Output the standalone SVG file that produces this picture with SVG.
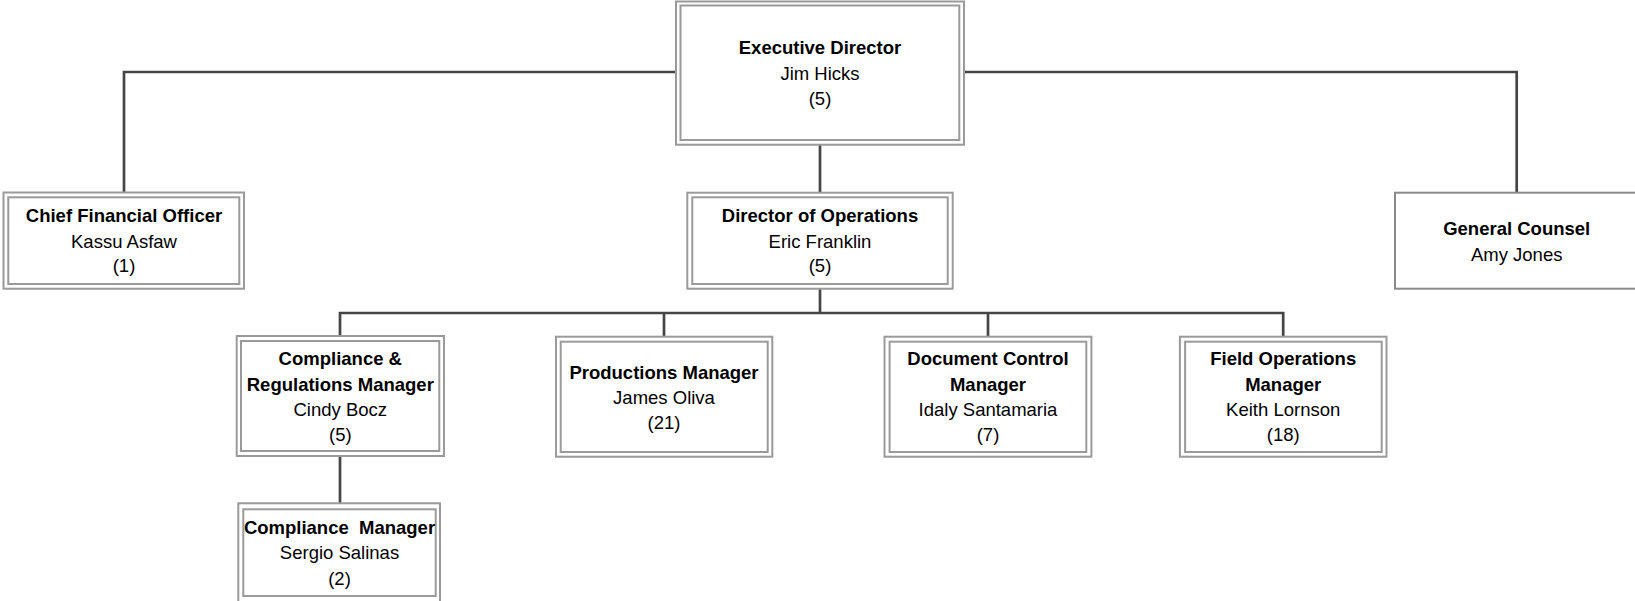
<svg xmlns="http://www.w3.org/2000/svg" width="1635" height="601" viewBox="0 0 1635 601">
<style>
.o{fill:#fff;stroke:#9a9a9a;stroke-width:2}
.i{fill:none;stroke:#9a9a9a;stroke-width:2}
.s{fill:#fff;stroke:#8a8a8a;stroke-width:2}
.c{fill:none;stroke:#454545;stroke-width:2.7}
text{font-family:"Liberation Sans",Arial,sans-serif;font-size:18.5px;fill:#000;text-anchor:middle}
.b{font-weight:bold}
</style>
<rect width="1635" height="601" fill="#fff"/>
<g id="connectors">
<path class="c" d="M676 72 H124 V192.5"/>
<path class="c" d="M964 72 H1516.7 V192.7"/>
<path class="c" d="M820 144.7 V192.7"/>
<path class="c" d="M820 288.7 V313"/>
<path class="c" d="M340 336 V313 H1283.2 V336.7"/>
<path class="c" d="M664 313 V336.7"/>
<path class="c" d="M988 313 V336.7"/>
<path class="c" d="M340 456 V503.3"/>
</g>
<g id="exec">
<rect class="o" x="676" y="1.5" width="288" height="143.2"/>
<rect class="i" x="680.5" y="5.5" width="278.8" height="134.5"/>
<text x="820" y="54" class="b">Executive Director</text>
<text x="820" y="80">Jim Hicks</text>
<text x="820" y="105">(5)</text>
</g>
<g id="cfo">
<rect class="o" x="3.5" y="192.5" width="240.5" height="96.2"/>
<rect class="i" x="8.3" y="197.3" width="231" height="86.7"/>
<text x="124" y="221.5" class="b">Chief Financial Officer</text>
<text x="124" y="247.5">Kassu Asfaw</text>
<text x="124" y="272">(1)</text>
</g>
<g id="dirops">
<rect class="o" x="687.3" y="192.7" width="265.4" height="96"/>
<rect class="i" x="692.3" y="197.3" width="255.4" height="86.7"/>
<text x="820" y="221.5" class="b">Director of Operations</text>
<text x="820" y="247.5">Eric Franklin</text>
<text x="820" y="272">(5)</text>
</g>
<g id="counsel">
<rect class="s" x="1395" y="192.7" width="245" height="96"/>
<text x="1516.7" y="235" class="b">General Counsel</text>
<text x="1516.7" y="260.5">Amy Jones</text>
</g>
<g id="compreg">
<rect class="o" x="236.7" y="336" width="207.3" height="120"/>
<rect class="i" x="241" y="341" width="198.3" height="110"/>
<text x="340.3" y="364.5" class="b">Compliance &amp;</text>
<text x="340.3" y="390.5" class="b">Regulations Manager</text>
<text x="340.3" y="415.5">Cindy Bocz</text>
<text x="340.3" y="441">(5)</text>
</g>
<g id="prod">
<rect class="o" x="556" y="336.7" width="216.3" height="120"/>
<rect class="i" x="560.7" y="341.7" width="207" height="110.3"/>
<text x="664" y="378.5" class="b">Productions Manager</text>
<text x="664" y="403.5">James Oliva</text>
<text x="664" y="428.5">(21)</text>
</g>
<g id="doc">
<rect class="o" x="884.5" y="336.7" width="206.9" height="120"/>
<rect class="i" x="889.6" y="341.7" width="196.7" height="110.3"/>
<text x="988" y="364.5" class="b">Document Control</text>
<text x="988" y="390.5" class="b">Manager</text>
<text x="988" y="415.5">Idaly Santamaria</text>
<text x="988" y="441">(7)</text>
</g>
<g id="field">
<rect class="o" x="1179.9" y="336.7" width="206.6" height="120"/>
<rect class="i" x="1185.1" y="341.7" width="196.6" height="110.3"/>
<text x="1283.2" y="364.5" class="b">Field Operations</text>
<text x="1283.2" y="390.5" class="b">Manager</text>
<text x="1283.2" y="415.5">Keith Lornson</text>
<text x="1283.2" y="441">(18)</text>
</g>
<g id="compmgr">
<rect class="o" x="238.3" y="503.3" width="201.7" height="100"/>
<rect class="i" x="243.3" y="509.3" width="192.4" height="86.7"/>
<text x="339.5" y="533.5" class="b" xml:space="preserve">Compliance  Manager</text>
<text x="339.5" y="559">Sergio Salinas</text>
<text x="339.5" y="584.5">(2)</text>
</g>
</svg>
